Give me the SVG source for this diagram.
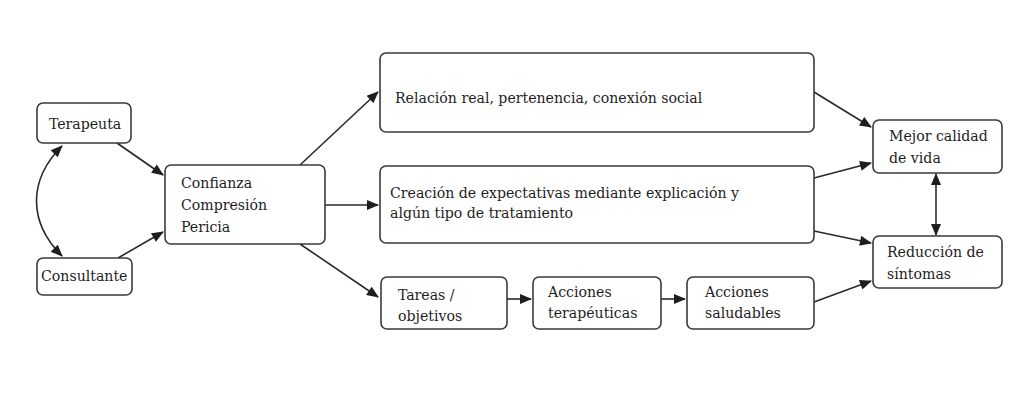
<svg xmlns="http://www.w3.org/2000/svg" width="1024" height="409" viewBox="0 0 1024 409">
<defs>
<style>
.box{fill:#fff;stroke:#3a3a3a;stroke-width:1.6}
.t{font-family:"DejaVu Serif Condensed","DejaVu Serif",serif;font-stretch:condensed;font-size:15.7px;fill:#1e1e1e}
.c{fill:none;stroke:#2a2a2a;stroke-width:1.6}
</style>
<marker id="ah" viewBox="0 0 12 10" refX="11" refY="5" markerWidth="13" markerHeight="10" markerUnits="userSpaceOnUse" orient="auto-start-reverse">
<path d="M0,0 L12,5 L0,10 z" fill="#1e1e1e"/>
</marker>
</defs>
<rect width="1024" height="409" fill="#fff"/>
<g id="connectors">
<path class="c" d="M62,146 C28,180 28,222 62,256" marker-start="url(#ah)" marker-end="url(#ah)"/>
<path class="c" d="M117,143 L163,175" marker-end="url(#ah)"/>
<path class="c" d="M118,258 L163,232" marker-end="url(#ah)"/>
<path class="c" d="M300,165 L378,92" marker-end="url(#ah)"/>
<path class="c" d="M325,205 L378,205" marker-end="url(#ah)"/>
<path class="c" d="M300,244 L378,297" marker-end="url(#ah)"/>
<path class="c" d="M507,299 L531,299" marker-end="url(#ah)"/>
<path class="c" d="M661,299 L685,299" marker-end="url(#ah)"/>
<path class="c" d="M814,302 L871,281" marker-end="url(#ah)"/>
<path class="c" d="M814,92 L871,127" marker-end="url(#ah)"/>
<path class="c" d="M814,178 L871,163" marker-end="url(#ah)"/>
<path class="c" d="M814,231 L871,243" marker-end="url(#ah)"/>
<path class="c" d="M936,174 L936,235" marker-start="url(#ah)" marker-end="url(#ah)"/>
</g>
<g id="terapeuta"><rect class="box" x="37" y="103" width="94" height="40" rx="6"/><text class="t" x="49" y="129">Terapeuta</text></g>
<g id="consultante"><rect class="box" x="37" y="258" width="95" height="37" rx="6"/><text class="t" x="41" y="281">Consultante</text></g>
<g id="confianza"><rect class="box" x="165" y="165" width="160" height="79" rx="6"/><text class="t" x="181" y="188">Confianza</text><text class="t" x="181" y="210">Compresión</text><text class="t" x="181" y="232">Pericia</text></g>
<g id="relacion"><rect class="box" x="380" y="53" width="434" height="79" rx="6"/><text class="t" x="395" y="103">Relación real, pertenencia, conexión social</text></g>
<g id="creacion"><rect class="box" x="380" y="166" width="434" height="77" rx="6"/><text class="t" x="390" y="198">Creación de expectativas mediante explicación y</text><text class="t" x="390" y="218">algún tipo de tratamiento</text></g>
<g id="tareas"><rect class="box" x="381" y="277" width="126" height="52" rx="6"/><text class="t" x="398" y="300">Tareas /</text><text class="t" x="398" y="321">objetivos</text></g>
<g id="acciones-terapeuticas"><rect class="box" x="533" y="277" width="128" height="52" rx="6"/><text class="t" x="548" y="297">Acciones</text><text class="t" x="548" y="318">terapéuticas</text></g>
<g id="acciones-saludables"><rect class="box" x="687" y="277" width="127" height="52" rx="6"/><text class="t" x="705" y="297">Acciones</text><text class="t" x="705" y="318">saludables</text></g>
<g id="mejor"><rect class="box" x="873" y="120" width="129" height="53" rx="6"/><text class="t" x="889" y="141">Mejor calidad</text><text class="t" x="889" y="163">de vida</text></g>
<g id="reduccion"><rect class="box" x="873" y="236" width="129" height="52" rx="6"/><text class="t" x="887" y="257">Reducción de</text><text class="t" x="887" y="279">síntomas</text></g>
</svg>
